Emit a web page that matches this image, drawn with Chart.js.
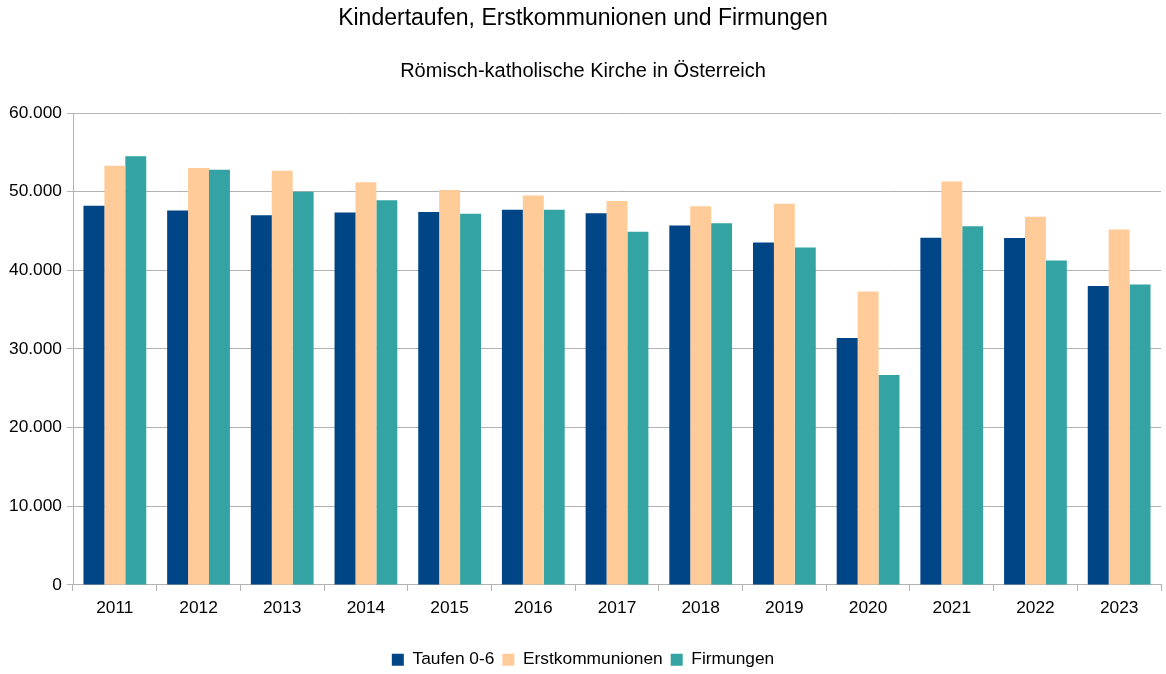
<!DOCTYPE html>
<html>
<head>
<meta charset="utf-8">
<script src="https://cdn.jsdelivr.net/npm/chart.js@4"></script>
<style>
  html, body { margin: 0; padding: 0; background: #fff; }
  #wrap { width: 1166px; height: 674px; }
</style>
</head>
<body>
<div id="wrap"><canvas id="chart" width="1166" height="674"></canvas></div>
<script>
const years = ['2011', '2012', '2013', '2014', '2015', '2016', '2017', '2018', '2019', '2020', '2021', '2022', '2023']
const taufen = [48200, 47600, 47000, 47350, 47400, 47700, 47250, 45700, 43550, 31400, 44150, 44100, 38000]
const erstkommunionen = [53300, 53000, 52650, 51200, 50200, 49500, 48800, 48150, 48450, 37300, 51300, 46800, 45200]
const firmungen = [54500, 52800, 49980, 48900, 47200, 47700, 44900, 46000, 42900, 26700, 45600, 41250, 38200]
const yTicks = [0, 10000, 20000, 30000, 40000, 50000, 60000]

const gridGray = '#b3b3b3'
const font = 'Liberation Sans, Arial, sans-serif'
const fs = 17.33

function fmt(v) {
    return v.toString().replace(/\B(?=(\d{3})+(?!\d))/g, '.')
}

const ctx = document.getElementById('chart').getContext('2d')
new Chart(ctx, {
    type: 'bar',
    data: {
        labels: years,
        datasets: [
            { label: 'Taufen 0-6', data: taufen, backgroundColor: '#004586' },
            { label: 'Erstkommunionen', data: erstkommunionen, backgroundColor: '#ffcc99' },
            { label: 'Firmungen', data: firmungen, backgroundColor: '#33a3a3' }
        ]
    },
    options: {
        responsive: false,
        animation: false,
        devicePixelRatio: 1,
        layout: { padding: { left: 5, right: 5, top: 5, bottom: -4.3 } },
        datasets: { bar: { categoryPercentage: 0.75, barPercentage: 1.0 } },
        plugins: {
            title: {
                display: true,
                text: 'Kindertaufen, Erstkommunionen und Firmungen',
                color: '#000',
                font: { family: font, size: 23, weight: 'normal', lineHeight: 1.2 },
                padding: { top: 0, bottom: 26.4 }
            },
            subtitle: {
                display: true,
                text: 'Römisch-katholische Kirche in Österreich',
                color: '#000',
                font: { family: font, size: 20, weight: 'normal', lineHeight: 1.2 },
                padding: { top: 0, bottom: 30 }
            },
            legend: {
                position: 'bottom',
                labels: {
                    color: '#000',
                    font: { family: font, size: fs, lineHeight: 1 },
                    boxWidth: 12,
                    boxHeight: 12,
                    padding: 8
                }
            },
            tooltip: { enabled: false }
        },
        scales: {
            x: {
                offset: true,
                afterFit: (axis) => { axis.height = 58 },
                grid: {
                    offset: true,
                    drawOnChartArea: true,
                    color: (c) => c.index === years.length ? gridGray : 'rgba(0,0,0,0)',
                    tickColor: gridGray,
                    tickLength: 6
                },
                border: { color: gridGray },
                ticks: {
                    color: '#000',
                    font: { family: font, size: fs },
                    padding: 7,
                    maxRotation: 0
                }
            },
            y: {
                min: 0,
                max: 60000,
                afterBuildTicks: (axis) => { axis.ticks = yTicks.map(v => ({ value: v })) },
                afterFit: (axis) => { axis.width = 68 },
                grid: {
                    color: gridGray,
                    tickColor: gridGray,
                    tickLength: 6
                },
                border: { color: gridGray },
                ticks: {
                    color: '#000',
                    font: { family: font, size: fs },
                    padding: 5,
                    callback: (v) => fmt(v)
                }
            }
        }
    }
})
</script>
</body>
</html>
